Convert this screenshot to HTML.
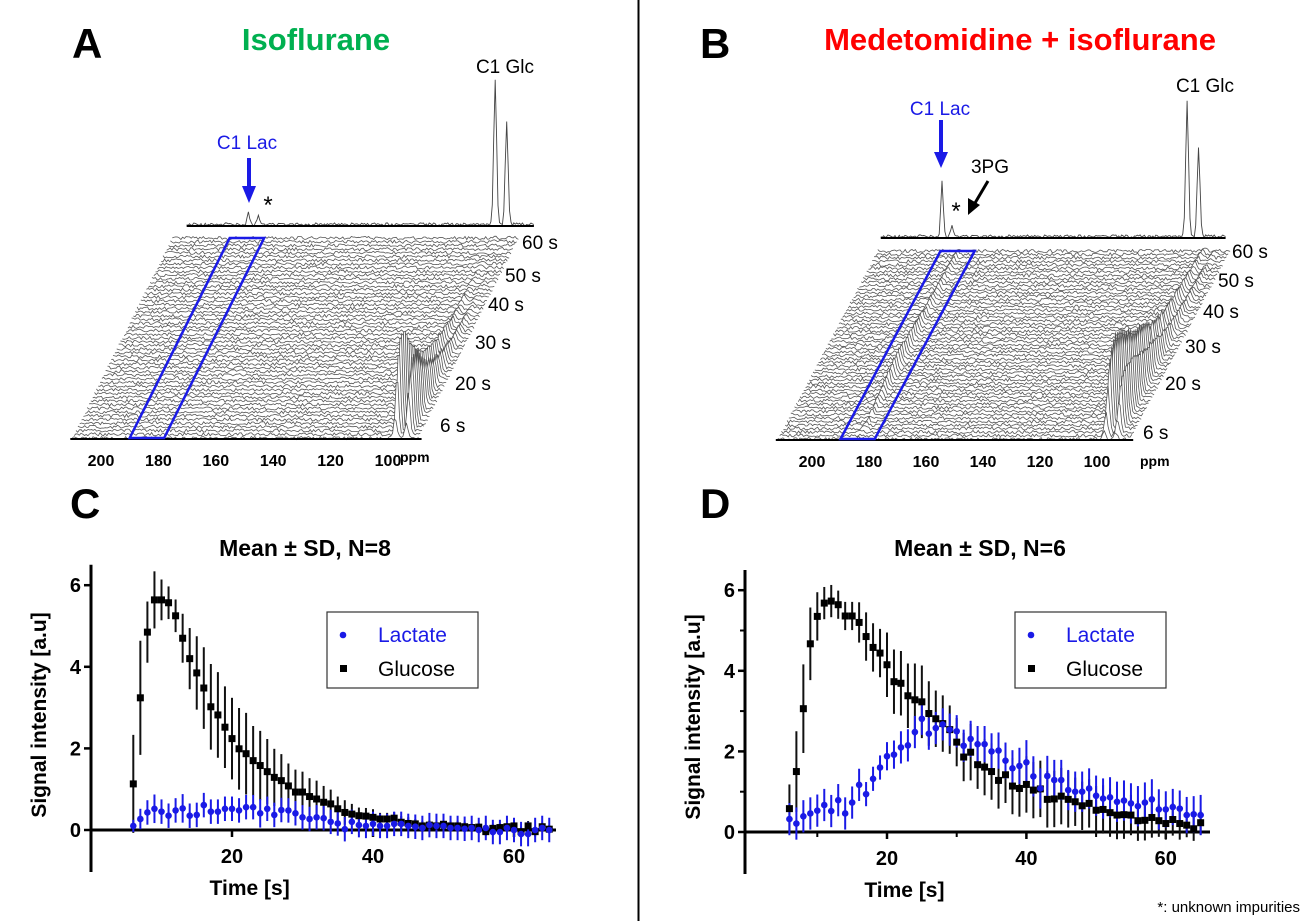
<!DOCTYPE html>
<html><head><meta charset="utf-8"><style>
html,body{margin:0;padding:0;background:#fff}
svg{display:block}
text{font-family:"Liberation Sans",Arial,sans-serif}
</style></head><body>
<svg id="fig" width="1311" height="921" viewBox="0 0 1311 921" xmlns="http://www.w3.org/2000/svg">
<line x1="638.5" y1="0" x2="638.5" y2="921" stroke="#000" stroke-width="2"/>
<text x="72" y="58" font-size="42" font-weight="bold">A</text>
<text x="316" y="50" font-size="31" font-weight="bold" fill="#00b050" text-anchor="middle">Isoflurane</text>
<text x="700" y="58" font-size="42" font-weight="bold">B</text>
<text x="1020" y="50" font-size="31" font-weight="bold" fill="#ff0000" text-anchor="middle">Medetomidine + isoflurane</text>
<text x="70" y="518" font-size="42" font-weight="bold">C</text>
<text x="700" y="518" font-size="42" font-weight="bold">D</text>
<text x="305" y="556" font-size="23" font-weight="bold" text-anchor="middle">Mean ± SD, N=8</text>
<text x="980" y="556" font-size="23" font-weight="bold" text-anchor="middle">Mean ± SD, N=6</text>
<text x="1300" y="912" font-size="15" text-anchor="end">*: unknown impurities</text>
<g id="wfA"></g>
<g id="wfB"></g>
<g id="plotC"></g>
<g id="plotD"></g>
</svg>
<script>
const NS="http://www.w3.org/2000/svg";
const times=[];for(let t=6;t<=65;t++)times.push(t);
const glucoseC=[1.13,3.24,4.85,5.64,5.64,5.57,5.25,4.7,4.2,3.85,3.48,3.02,2.82,2.52,2.24,1.99,1.87,1.7,1.58,1.43,1.29,1.21,1.08,0.93,0.93,0.82,0.76,0.68,0.64,0.52,0.43,0.39,0.35,0.34,0.31,0.27,0.27,0.29,0.19,0.16,0.15,0.1,0.12,0.1,0.14,0.1,0.1,0.08,0.06,0.07,-0.04,0.04,0.06,0.08,0.1,-0.04,0.1,-0.04,0.08,0.02];
const glucoseErrC=[1.2,1.4,0.75,0.7,0.5,0.4,0.4,0.6,0.75,0.9,1.0,1.05,1.05,1.0,1.0,1.0,1.0,0.85,0.85,0.8,0.7,0.65,0.55,0.55,0.5,0.45,0.45,0.4,0.35,0.3,0.3,0.25,0.2,0.2,0.2,0.15,0.15,0.15,0.15,0.15,0.12,0.12,0.12,0.12,0.12,0.12,0.12,0.12,0.1,0.1,0.1,0.1,0.1,0.1,0.1,0.12,0.12,0.12,0.1,0.1];
const lactateC=[0.1,0.27,0.43,0.52,0.45,0.35,0.48,0.53,0.35,0.37,0.61,0.45,0.45,0.52,0.52,0.48,0.56,0.56,0.41,0.52,0.37,0.49,0.48,0.41,0.31,0.27,0.31,0.29,0.2,0.16,0.02,0.2,0.12,0.1,0.15,0.1,0.1,0.15,0.15,0.1,0.08,0.05,0.12,0.1,0.1,0.05,0.05,0.03,0.05,0.0,0.05,-0.05,-0.05,0.05,0,-0.1,-0.1,0,0.05,0];
const lactateErrC=[0.15,0.25,0.3,0.35,0.3,0.3,0.3,0.35,0.3,0.3,0.3,0.3,0.3,0.3,0.3,0.3,0.3,0.3,0.35,0.3,0.3,0.3,0.3,0.3,0.3,0.3,0.3,0.3,0.3,0.3,0.3,0.3,0.3,0.3,0.3,0.3,0.3,0.3,0.3,0.3,0.3,0.3,0.3,0.3,0.3,0.3,0.3,0.3,0.3,0.3,0.3,0.3,0.3,0.3,0.3,0.3,0.3,0.3,0.3,0.3];
const glucoseD=[0.58,1.5,3.06,4.67,5.35,5.68,5.73,5.64,5.36,5.36,5.2,4.85,4.58,4.44,4.15,3.73,3.69,3.38,3.28,3.23,2.94,2.81,2.69,2.54,2.23,1.86,1.98,1.67,1.61,1.5,1.28,1.42,1.14,1.08,1.18,1.04,1.07,0.81,0.82,0.89,0.81,0.75,0.65,0.71,0.54,0.56,0.48,0.42,0.43,0.42,0.28,0.29,0.36,0.28,0.21,0.31,0.21,0.17,0.08,0.23];
const glucoseErrD=[0.6,1.0,1.1,0.9,0.6,0.4,0.4,0.35,0.35,0.35,0.5,0.6,0.6,0.6,0.8,0.8,0.8,0.8,0.9,0.9,0.8,0.7,0.7,0.6,0.6,0.6,0.7,0.6,0.7,0.7,0.7,0.7,0.7,0.7,0.7,0.7,0.7,0.7,0.7,0.7,0.7,0.6,0.6,0.6,0.6,0.6,0.6,0.6,0.6,0.5,0.5,0.5,0.5,0.4,0.4,0.4,0.4,0.3,0.3,0.3];
const lactateD=[0.32,0.21,0.39,0.46,0.53,0.67,0.52,0.79,0.46,0.73,1.17,0.94,1.32,1.6,1.88,1.92,2.1,2.15,2.48,2.81,2.44,2.58,2.67,2.54,2.5,2.14,2.31,2.18,2.18,2.0,2.02,1.77,1.58,1.64,1.73,1.38,1.08,1.39,1.29,1.29,1.04,1.0,1.0,1.08,0.9,0.83,0.86,0.75,0.78,0.71,0.64,0.73,0.81,0.56,0.56,0.62,0.58,0.42,0.44,0.42];
const lactateErrD=[0.4,0.4,0.4,0.4,0.4,0.4,0.4,0.4,0.4,0.4,0.4,0.3,0.3,0.3,0.35,0.35,0.4,0.4,0.4,0.4,0.4,0.4,0.4,0.4,0.4,0.4,0.45,0.45,0.45,0.45,0.45,0.45,0.45,0.45,0.55,0.5,0.5,0.5,0.5,0.5,0.5,0.5,0.5,0.5,0.5,0.5,0.5,0.5,0.5,0.5,0.5,0.5,0.5,0.5,0.45,0.45,0.45,0.45,0.45,0.5];
const yTicks=[0,2,4,6];
const xTicks=[20,40,60];

function mk(tag,attrs,parent){const e=document.createElementNS(NS,tag);for(const k in attrs)e.setAttribute(k,attrs[k]);parent.appendChild(e);return e;}

function plot(gid,ax,y0,ppu,x20,ppx,glu,gluE,lac,lacE,legX,minor){
  const g=document.getElementById(gid);
  const X=t=>x20+(t-20)*ppx, Y=v=>y0-v*ppu;
  const ya=mk('line',{x1:ax,y1:y0-6.5*ppu,x2:ax,y2:y0+42,stroke:'#000','stroke-width':3},g);
  
  
  const xa=mk('line',{x1:ax,y1:y0,x2:ax+465,y2:y0,stroke:'#000','stroke-width':3},g);
  
  
  yTicks.forEach(v=>{
    mk('line',{x1:ax-7,y1:Y(v),x2:ax,y2:Y(v),stroke:'#000','stroke-width':2.5},g);
    const t=mk('text',{x:ax-10,y:Y(v)+7,'font-size':20,'font-weight':'bold','text-anchor':'end'},g);t.textContent=v;
    
    
  });
  xTicks.forEach(v=>{
    mk('line',{x1:X(v),y1:y0,x2:X(v),y2:y0+7,stroke:'#000','stroke-width':2.5},g);
    const t=mk('text',{x:X(v),y:y0+33,'font-size':20,'font-weight':'bold','text-anchor':'middle'},g);t.textContent=v;
    
    
  });
  if(minor){[10,30,50].forEach(v=>mk('line',{x1:X(v),y1:y0,x2:X(v),y2:y0+5,stroke:'#000','stroke-width':2},g));
    [1,3,5].forEach(v=>mk('line',{x1:ax-5,y1:Y(v),x2:ax,y2:Y(v),stroke:'#000','stroke-width':2},g));}
  const yl=mk('text',{transform:`translate(${ax-45},${y0-115}) rotate(-90)`,'font-size':21,'font-weight':'bold','text-anchor':'middle'},g);
  yl.textContent='Signal intensity [a.u]';
  
  
  const xl=mk('text',{x:X(22.5),y:y0+65,'font-size':21,'font-weight':'bold','text-anchor':'middle'},g);
  xl.textContent='Time [s]';
  
  
  times.forEach((t,i)=>{
    const e=mk('line',{x1:X(t),y1:Y(glu[i]-gluE[i]),x2:X(t),y2:Y(glu[i]+gluE[i]),stroke:'#111','stroke-width':2},g);
    
    
  });
  times.forEach((t,i)=>{
    const e=mk('line',{x1:X(t),y1:Y(lac[i]-lacE[i]),x2:X(t),y2:Y(lac[i]+lacE[i]),stroke:'#1a1ae6','stroke-width':2},g);
    
    
  });
  times.forEach((t,i)=>{
    const s=mk('rect',{x:X(t)-3.5,y:Y(glu[i])-3.5,width:7,height:7,fill:'#000'},g);
    
    
  });
  times.forEach((t,i)=>{
    const c=mk('circle',{cx:X(t),cy:Y(lac[i]),r:3.3,fill:'#1a1ae6'},g);
    
    
  });
  const lg=mk('g',{},g);
  
  
  mk('rect',{x:legX,y:612,width:151,height:76,fill:'#fff',stroke:'#333','stroke-width':1.2},lg);
  mk('circle',{cx:legX+16,cy:635,r:3.3,fill:'#1a1ae6'},lg);
  const t1=mk('text',{x:legX+51,y:642,'font-size':21,fill:'#1a1ae6'},lg);t1.textContent='Lactate';
  
  
  mk('rect',{x:legX+13,y:665,width:7,height:7,fill:'#000'},lg);
  const t2=mk('text',{x:legX+51,y:676,'font-size':21},lg);t2.textContent='Glucose';
  
  
}
plot('plotC',91,830,40.8,232,7.05,glucoseC,glucoseErrC,lactateC,lactateErrC,327,false);
plot('plotD',745,832,40.3,887,6.97,glucoseD,glucoseErrD,lactateD,lactateErrD,1015,true);

function hash(a,b){const s=Math.sin(a*12.9898+b*78.233)*43758.5453;return s-Math.floor(s);}
function waterfall(gid,o){
  const g=document.getElementById(gid);
  const n=55;
  const pX=p=>o.x200+(200-p)*o.ppp;
  for(let r=n-1;r>=0;r--){
    const f=r/(n-1), ox=o.dx*f, by=o.fy-o.dy*f;
    const t=6+Math.round(f*54), ti=Math.min(times.length-1,t-6);
    let d='';
    for(let p=o.pmax;p>=o.pmin;p-=0.6){
      let y=by-(hash(r,p)-0.5)*3.2;
      const gl=o.glu[ti]*o.gs*(Math.exp(-Math.pow((p-o.gp)/0.8,2))+0.7*Math.exp(-Math.pow((p-o.gp+4)/0.8,2)));
      const la=o.lac[ti]*o.ls*Math.exp(-Math.pow((p-183.5)/0.8,2));
      y-=gl+la;
      d+=(d?'L':'M')+(pX(p)+ox).toFixed(1)+','+y.toFixed(1);
    }
    mk('path',{d:d+`L${(pX(o.pmin)+ox).toFixed(1)},${by+2}L${(pX(o.pmax)+ox).toFixed(1)},${by+2}Z`,fill:'#fff',stroke:'none'},g);
    const ln=mk('path',{d:d,fill:'none',stroke:'#555','stroke-width':0.8},g);
    
    
  }
  mk('line',{x1:pX(o.pmax)-2,y1:o.fy+1,x2:pX(o.pmin)+2,y2:o.fy+1,stroke:'#000','stroke-width':2},g);
  const b=mk('polygon',{points:`${pX(190)},${o.fy} ${pX(178)},${o.fy} ${pX(178)+o.dx},${o.fy-o.dy} ${pX(190)+o.dx},${o.fy-o.dy}`,fill:'none',stroke:'#1a1ae6','stroke-width':2.5},g);
  
  
  [200,180,160,140,120,100].forEach(p=>{const t=mk('text',{x:pX(p),y:o.fy+28,'font-size':16,'font-weight':'bold','text-anchor':'middle'},g);t.textContent=p;
    
    });
  const pp=mk('text',{x:o.ppmX,y:o.ppmY,'font-size':14,'font-weight':'bold'},g);pp.textContent='ppm';
  o.tl.forEach(l=>{const t=mk('text',{x:l[1],y:l[2],'font-size':19},g);t.textContent=l[0];
    
    });
  let d='';
  for(let p=205;p>=84;p-=0.5){
    let y=o.ty-(hash(p,7)-0.3)*3;
    y-=o.topG1*Math.exp(-Math.pow((p-o.gp)/0.7,2))+o.topG2*Math.exp(-Math.pow((p-o.gp+4)/0.7,2));
    y-=o.topL*Math.exp(-Math.pow((p-183.5)/0.6,2))+o.topS*Math.exp(-Math.pow((p-180)/0.7,2));
    d+=(d?'L':'M')+(pX(p)+o.tdx).toFixed(1)+','+y.toFixed(1);
  }
  const ts=mk('path',{d:d,fill:'none',stroke:'#444','stroke-width':0.9},g);
  
  
  mk('line',{x1:pX(205)+o.tdx,y1:o.ty+1,x2:pX(84)+o.tdx,y2:o.ty+1,stroke:'#000','stroke-width':2},g);
}
waterfall('wfA',{x200:101,ppp:2.87,pmax:210,pmin:89,fy:438,dx:100,dy:200,glu:glucoseC,lac:lactateC,gs:18,ls:2,gp:97.5,
  tl:[['60 s',522,249],['50 s',505,282],['40 s',488,311],['30 s',475,349],['20 s',455,390],['6 s',440,432]],ppmX:400,ppmY:462,
  ty:225,tdx:100,topG1:145,topG2:102,topL:12,topS:8});
waterfall('wfB',{x200:812,ppp:2.85,pmax:212,pmin:88,fy:439,dx:100,dy:188,glu:glucoseD,lac:lactateD,gs:15,ls:6,gp:97.5,
  tl:[['60 s',1232,258],['50 s',1218,287],['40 s',1203,318],['30 s',1185,353],['20 s',1165,390],['6 s',1143,439]],ppmX:1140,ppmY:466,
  ty:237,tdx:83,topG1:136,topG2:88,topL:55,topS:10});
const svg=document.getElementById('fig');
function txt(s,x,y,fill,size,name){const t=mk('text',{x:x,y:y,'font-size':size,fill:fill,'text-anchor':'middle'},svg);t.textContent=s;
  
  }
txt('C1 Glc',505,73,'#000',19,'label-c1-glc-a');
txt('C1 Lac',247,149,'#1a1ae6',19,'label-c1-lac-a');
mk('line',{x1:249,y1:158,x2:249,y2:190,stroke:'#1a1ae6','stroke-width':4},svg);
mk('polygon',{points:'242,186 256,186 249,203',fill:'#1a1ae6'},svg);
txt('*',268,213,'#000',24,'impurity-star-a');
txt('C1 Glc',1205,92,'#000',19,'label-c1-glc-b');
txt('C1 Lac',940,115,'#1a1ae6',19,'label-c1-lac-b');
mk('line',{x1:941,y1:120,x2:941,y2:156,stroke:'#1a1ae6','stroke-width':4},svg);
mk('polygon',{points:'934,152 948,152 941,168',fill:'#1a1ae6'},svg);
txt('3PG',990,173,'#000',19,'label-3pg');
mk('line',{x1:988,y1:181,x2:975,y2:203,stroke:'#000','stroke-width':3},svg);
mk('polygon',{points:'968,198 980,205 968,215',fill:'#000'},svg);
txt('*',956,219,'#000',24,'impurity-star-b');
</script>
</body></html>
